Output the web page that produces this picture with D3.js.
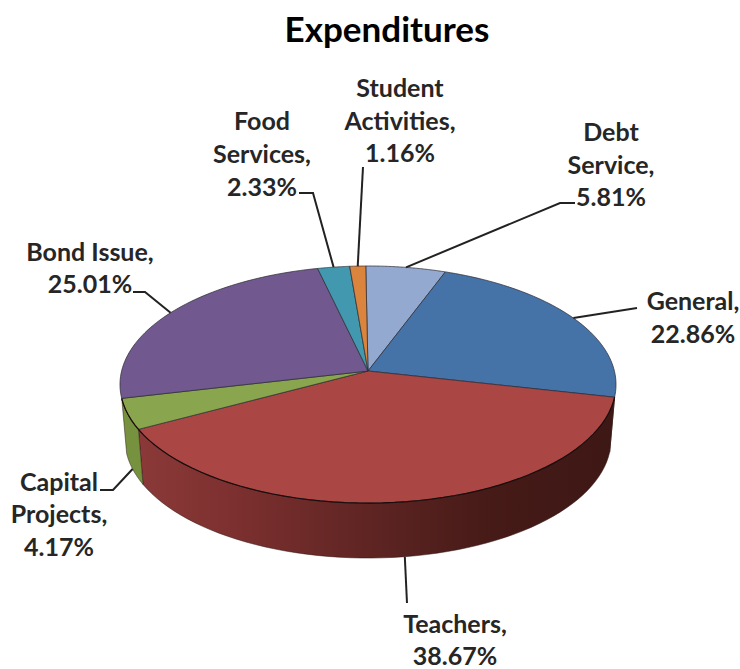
<!DOCTYPE html>
<html>
<head>
<meta charset="utf-8">
<script src="https://cdn.jsdelivr.net/npm/d3@7/dist/d3.min.js"></script>
<style>
  html, body { margin: 0; padding: 0; background: #fff; }
  text { font-family: Lato, "Open Sans", sans-serif; font-weight: 700; }
</style>
</head>
<body>
<svg id="chart" width="740" height="669"></svg>
<script>
// Budget shares, clockwise from twelve o'clock
const categories = ["Debt Service", "General", "Teachers", "Capital Projects", "Bond Issue", "Food Services", "Student Activities"];
const shares = [5.81, 22.86, 38.67, 4.17, 25.01, 2.33, 1.16];
const sliceColors = ["#93A9CF", "#4572A7", "#AA4643", "#89A54E", "#71588F", "#4198AF", "#DB843D"];
const wallColors = ["#6f83a8", "#365a85", "#6b2b29", "#76923f", "#5a4672", "#33788c", "#b06a30"];

// Label layout: wrapped lines, text anchor, leader elbow points
const labelLines = [
  ["Debt", "Service,", "5.81%"],
  ["General,", "22.86%"],
  ["Teachers,", "38.67%"],
  ["Capital", "Projects,", "4.17%"],
  ["Bond Issue,", "25.01%"],
  ["Food", "Services,", "2.33%"],
  ["Student", "Activities,", "1.16%"]
];
const labelAnchors = [[611, 132], [693, 301], [455, 624], [59, 482], [90, 252], [262, 121], [400, 88]];
const lineSteps = [[0, 33, 65], [0, 33], [0, 32], [0, 32, 65], [0, 32], [0, 33, 66], [0, 33, 65]];
const leaderElbows = [
  [[560, 203], [575, 203]],
  [[637, 308]],
  [[407, 603]],
  [[113, 490], [100, 490]],
  [[145, 292], [133, 292]],
  [[313, 193], [299, 193]],
  [[363, 167]]
];

// Tilted-disc projection of the pie
const cx = 368, cy = 371, radX = 246.4, radY = 117, tilt = 0.114, depth = 55, baseScale = 0.98;
const startAngle = -0.01;
const project = a => {
  const w = 1 + tilt * Math.cos(a);
  return [cx + radX * Math.sin(a) / w, cy - radY * Math.cos(a) / w];
};
const base = ([x, y]) => [cx + (x - cx) * baseScale, y + depth];

// The side wall runs from the right rim round the front to the left rim
const wallFrom = 1.79, wallTo = 4.48;

const arcs = d3.pie().sort(null).value(d => d).startAngle(startAngle).endAngle(startAngle + 2 * Math.PI)(shares);
const samples = (a0, a1) => d3.range(0, 61).map(i => a0 + (a1 - a0) * i / 60);
const path = d3.line();

const svg = d3.select("#chart");

const defs = svg.append("defs");
const shade = defs.append("linearGradient")
  .attr("id", "teachersWall").attr("gradientUnits", "userSpaceOnUse")
  .attr("x1", 140).attr("x2", 612).attr("y1", 0).attr("y2", 0);
[[0, "#8a3938"], [0.2, "#7c302f"], [0.48, "#5f2523"], [0.75, "#451a17"], [1, "#3e1815"]]
  .forEach(([o, c]) => shade.append("stop").attr("offset", o).attr("stop-color", c));

// Title
svg.append("text").attr("x", 387).attr("y", 42).attr("text-anchor", "middle")
  .attr("font-size", 35).attr("fill", "#000").text("Expenditures");

// Side wall of every slice that faces the viewer
arcs.forEach((d, i) => {
  const a0 = Math.max(d.startAngle, wallFrom), a1 = Math.min(d.endAngle, wallTo);
  if (a1 <= a0) return;
  const top = samples(a0, a1).map(project);
  const ring = top.concat(top.slice().reverse().map(base));
  svg.append("path").attr("d", path(ring) + "Z")
    .attr("fill", i === 2 ? "url(#teachersWall)" : wallColors[i])
    .attr("stroke", "#2a1512").attr("stroke-width", 0.7).attr("stroke-opacity", 0.7);
});

// Top face
arcs.forEach((d, i) => {
  const pts = [[cx, cy]].concat(samples(d.startAngle, d.endAngle).map(project));
  svg.append("path").attr("d", path(pts) + "Z")
    .attr("fill", sliceColors[i])
    .attr("stroke", "#2b2b33").attr("stroke-width", 0.9).attr("stroke-opacity", 0.8)
    .attr("stroke-linejoin", "round");
});

// Dark rim where the top face meets the wall
svg.append("path").attr("d", path(samples(wallFrom, wallTo).map(project)))
  .attr("fill", "none").attr("stroke", "#1c0c0c").attr("stroke-width", 1.2);

// Leader lines, starting on the rim at each slice's middle angle
arcs.forEach((d, i) => {
  const mid = (d.startAngle + d.endAngle) / 2;
  let start = project(mid);
  if (Math.cos(mid) < -tilt) start = base(start);
  svg.append("path").attr("d", path([start].concat(leaderElbows[i])))
    .attr("fill", "none").attr("stroke", "#222").attr("stroke-width", 2);
});

// Data labels
labelLines.forEach((lines, i) => {
  const [x, y] = labelAnchors[i];
  lines.forEach((line, j) => {
    svg.append("text").attr("x", x).attr("y", y + lineSteps[i][j]).attr("dy", "0.35em")
      .attr("text-anchor", "middle").attr("font-size", 25).attr("fill", "#262626").text(line);
  });
});
</script>
</body>
</html>
